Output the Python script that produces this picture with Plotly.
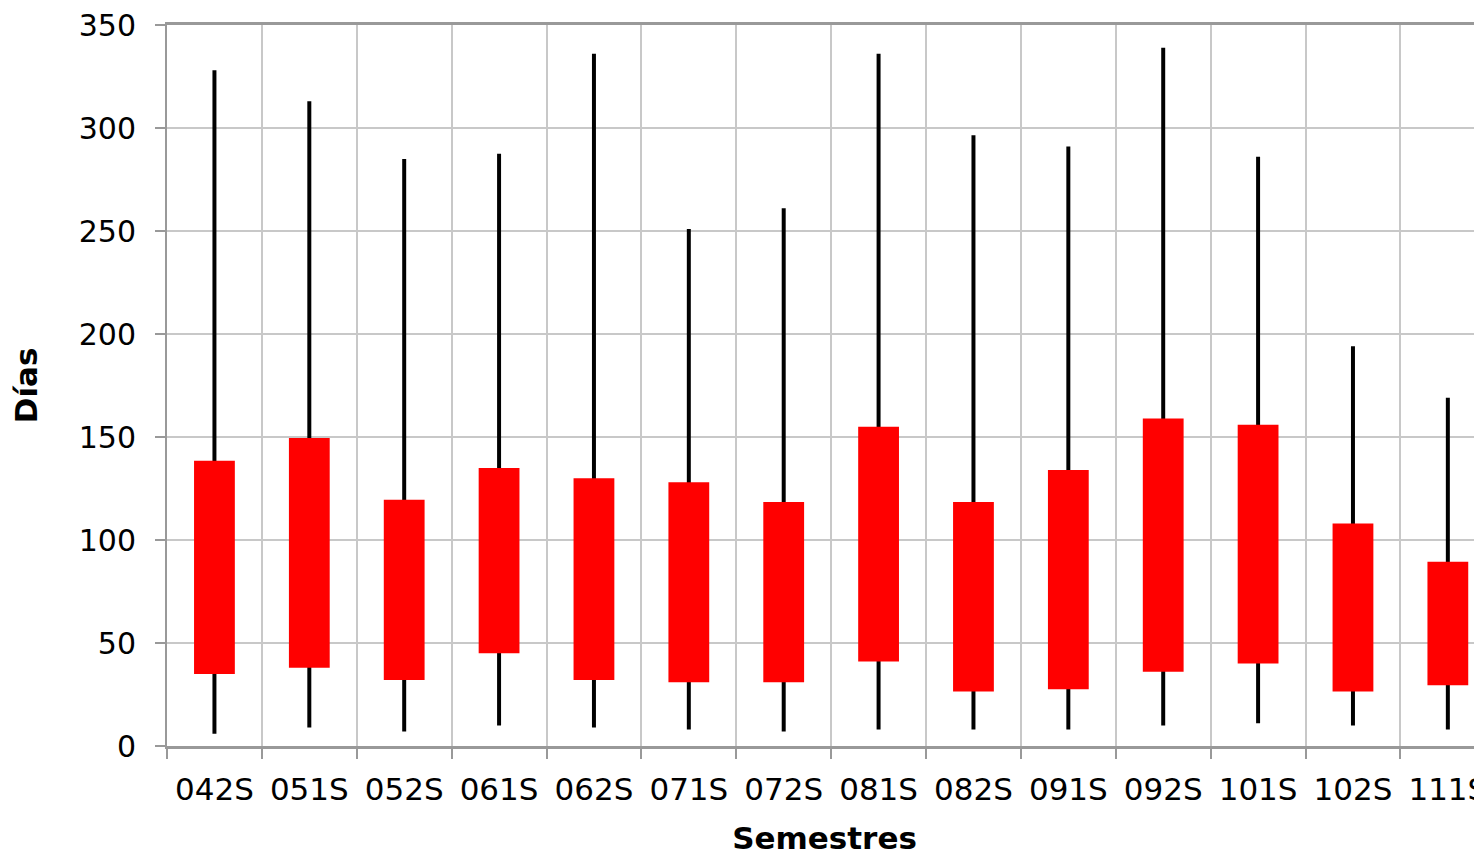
import plotly.graph_objects as go

semestres = ["042S", "051S", "052S", "061S", "062S", "071S", "072S",
             "081S", "082S", "091S", "092S", "101S", "102S", "111S"]
minimo = [6, 9, 7, 10, 9, 8, 7, 8, 8, 8, 10, 11, 10, 8]
q1 = [35, 38, 32, 45, 32, 31, 31, 41, 26.5, 27.5, 36, 40, 26.5, 29.5]
q3 = [138.5, 149.5, 119.5, 135, 130, 128, 118.5, 155, 118.5, 134, 159, 156, 108, 89.5]
maximo = [328, 313, 285, 287.5, 336, 251, 261, 336, 296.5, 291, 339, 286, 194, 169]

FONT = "DejaVu Sans, Verdana, sans-serif"

fig = go.Figure()

# whiskers: thin black bars from min to max
fig.add_trace(go.Bar(
    x=semestres,
    y=[hi - lo for lo, hi in zip(minimo, maximo)],
    base=minimo,
    width=0.042,
    marker=dict(color="black", line=dict(width=0)),
    hoverinfo="skip",
    showlegend=False,
))

# red boxes from q1 to q3
fig.add_trace(go.Bar(
    x=semestres,
    y=[b - a for a, b in zip(q1, q3)],
    base=q1,
    width=0.43,
    marker=dict(color="#ff0000", line=dict(width=0)),
    showlegend=False,
))

# page body adds an 8px offset, so the figure is 8px smaller
fig.update_layout(
    width=1474,
    height=848,
    barmode="overlay",
    plot_bgcolor="white",
    paper_bgcolor="white",
    margin=dict(l=159, r=0, t=17, b=110),
    font=dict(family=FONT, color="black", size=30),
)

fig.update_xaxes(
    type="category",
    range=[-0.5, 13.36],
    tickson="boundaries",
    ticks="outside",
    ticklen=10,
    tickwidth=2,
    tickcolor="#999999",
    showgrid=True,
    gridcolor="#c8c8c8",
    gridwidth=2,
    showline=True,
    linecolor="#999999",
    linewidth=3,
    mirror=True,
    automargin=False,
    tickfont=dict(size=31),
    ticklabelstandoff=14,
    ticklabeloverflow="allow",
    title=dict(text="<b>Semestres</b>", font=dict(size=31), standoff=33),
)

fig.update_yaxes(
    range=[0, 350],
    dtick=50,
    ticks="outside",
    ticklen=10,
    tickwidth=2,
    tickcolor="#999999",
    showgrid=True,
    gridcolor="#c8c8c8",
    gridwidth=2,
    showline=True,
    linecolor="#999999",
    linewidth=2,
    zeroline=False,
    automargin=False,
    tickfont=dict(size=30),
    ticklabelstandoff=13,
    ticklabeloverflow="allow",
    title=dict(text="<b>Días</b>", font=dict(size=31), standoff=32),
)

fig.write_html("out.html")
